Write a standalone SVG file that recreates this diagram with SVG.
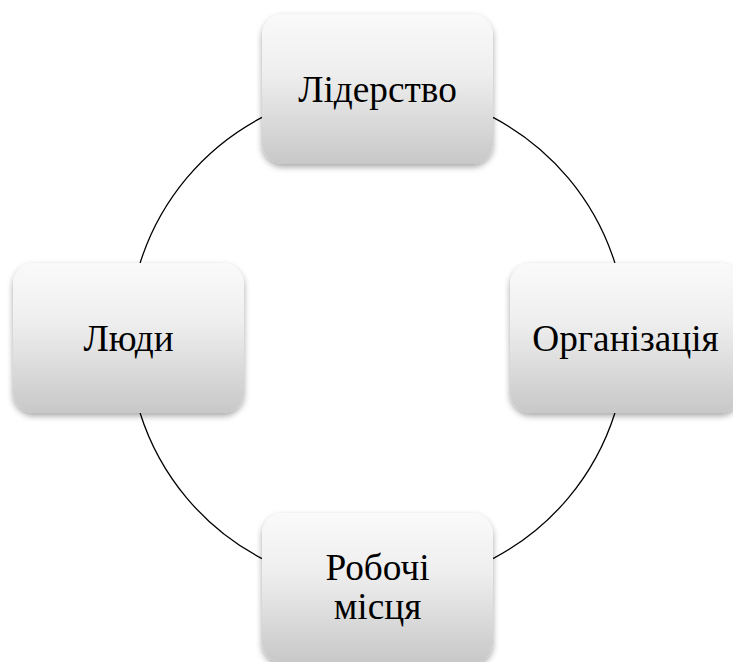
<svg xmlns="http://www.w3.org/2000/svg" width="733" height="662" viewBox="0 0 733 662">
  <defs>
    <linearGradient id="g" x1="0" y1="0" x2="0" y2="1">
      <stop offset="0" stop-color="#fafafa"/>
      <stop offset="0.4" stop-color="#eeeeee"/>
      <stop offset="1" stop-color="#c8c8c8"/>
    </linearGradient>
    <filter id="sh" x="-10%" y="-10%" width="120%" height="125%">
      <feDropShadow dx="0" dy="3" stdDeviation="3" flood-color="#000" flood-opacity="0.35"/>
    </filter>
  </defs>
  <style>
    .node rect { fill: url(#g); filter: url(#sh); }
    .node text { font-size: 37.3px; fill: #000; text-anchor: middle; }
    .conn path { fill: none; stroke: #000; stroke-width: 1.3; }
  </style>
  <rect width="733" height="662" fill="#fff"/>
  <g id="connectors" class="conn">
    <path d="M493,117.4 A249,249 0 0 1 614.9,263"/>
    <path d="M614.9,413 A249,249 0 0 1 493,558.6"/>
    <path d="M262,558.6 A249,249 0 0 1 140.1,413"/>
    <path d="M140.1,263 A249,249 0 0 1 262,117.4"/>
  </g>
  <g font-family="'Liberation Serif', 'DejaVu Serif', serif">
    <g id="node-leadership" class="node">
      <rect x="262" y="14" width="231" height="150" rx="21"/>
      <text x="377.5" y="102">Лідерство</text>
    </g>
    <g id="node-organization" class="node">
      <rect x="510" y="263" width="231" height="150" rx="21"/>
      <text x="625.5" y="351">Організація</text>
    </g>
    <g id="node-workplaces" class="node">
      <rect x="262" y="513" width="231" height="150" rx="21"/>
      <text x="377.5" y="580">Робочі</text>
      <text x="377.5" y="619">місця</text>
    </g>
    <g id="node-people" class="node">
      <rect x="13" y="263" width="231" height="150" rx="21"/>
      <text x="128.5" y="351">Люди</text>
    </g>
  </g>
</svg>
